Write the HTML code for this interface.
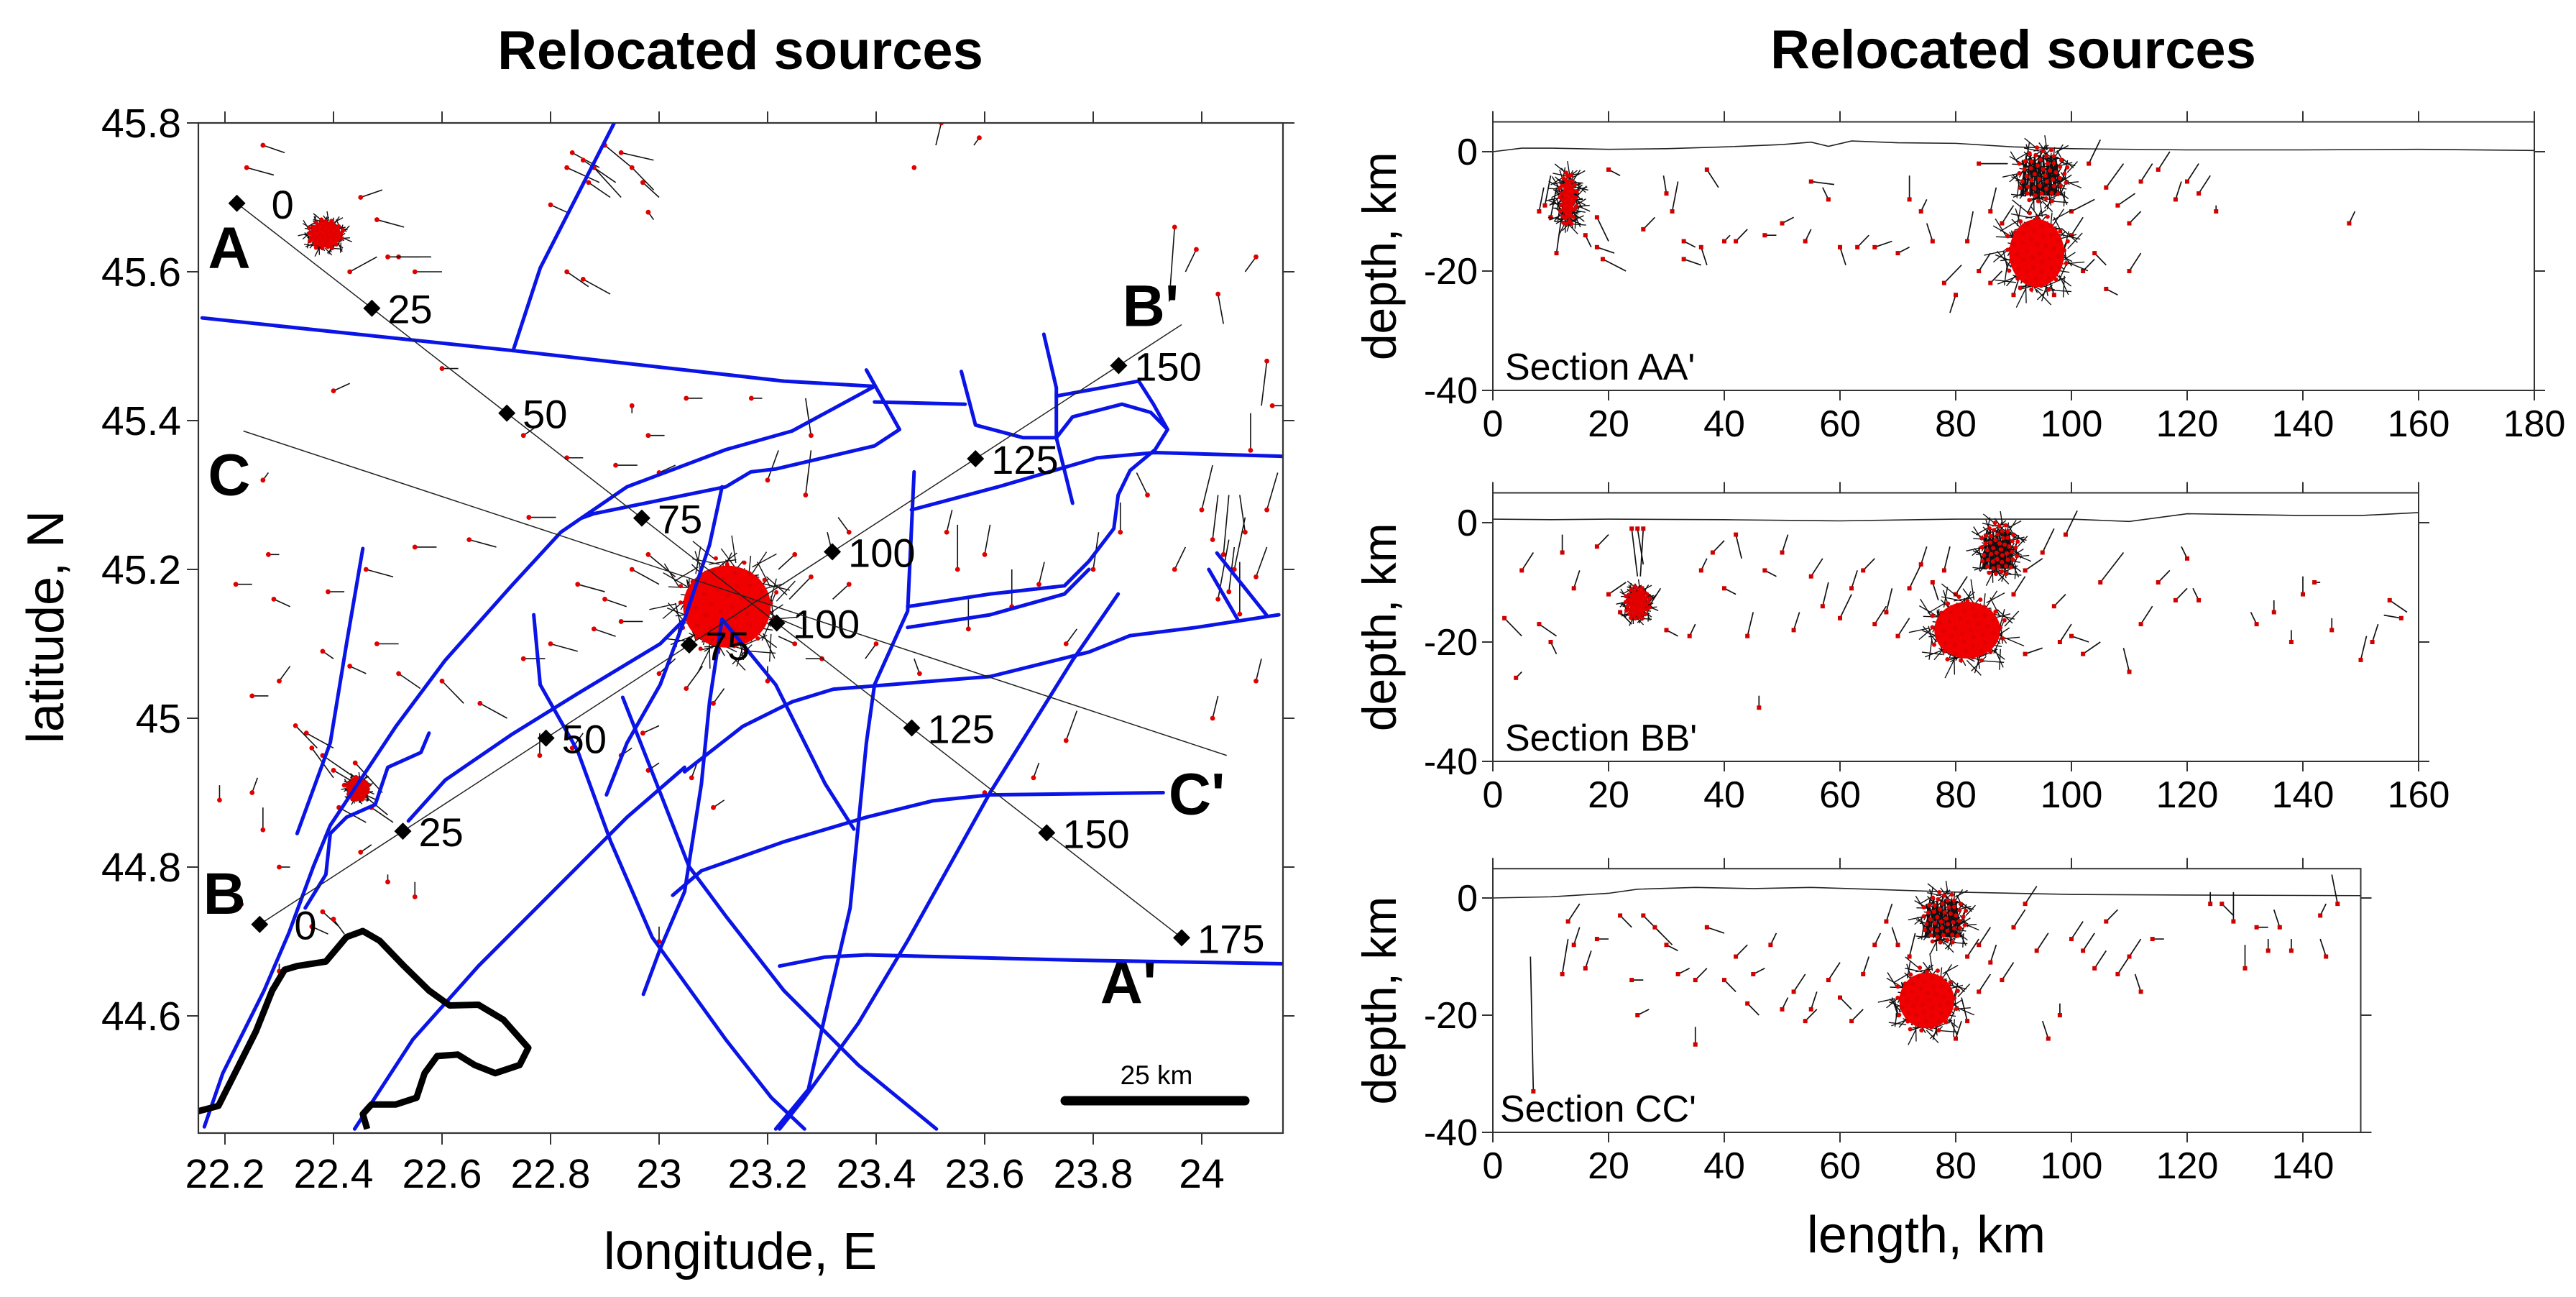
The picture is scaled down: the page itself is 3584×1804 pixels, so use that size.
<!DOCTYPE html>
<html><head><meta charset="utf-8"><style>
html,body{margin:0;padding:0;background:#fff}
svg{display:block;font-family:"Liberation Sans",Arial,sans-serif}
</style></head><body>
<svg id="fig" xmlns="http://www.w3.org/2000/svg" width="3584" height="1804" viewBox="0 0 3584 1804">
<rect width="3584" height="1804" fill="#fff"/>
<text x="1030" y="96" font-size="76" font-weight="bold" text-anchor="middle">Relocated sources</text>
<text x="2801" y="95" font-size="76" font-weight="bold" text-anchor="middle">Relocated sources</text>
<text x="1030" y="1765" font-size="72" text-anchor="middle">longitude, E</text>
<text transform="translate(88,872) rotate(-90)" font-size="72" text-anchor="middle">latitude, N</text>
<text x="2680" y="1742" font-size="72" text-anchor="middle">length, km</text>
<g id="map"></g>
<g id="sec"></g>
</svg>
<script>
// ===== MAP DATA =====
const lonTicks=[22.2,22.4,22.6,22.8,23,23.2,23.4,23.6,23.8,24];
const lonTickLabels=["22.2","22.4","22.6","22.8","23","23.2","23.4","23.6","23.8","24"];
const latTicks=[45.8,45.6,45.4,45.2,45,44.8,44.6];
const latTickLabels=["45.8","45.6","45.4","45.2","45","44.8","44.6"];
const faults=[
[[22.158,45.538],[22.731,45.494],[23.230,45.453],[23.397,45.446]],
[[22.731,45.494],[22.781,45.605],[22.918,45.801]],
[[23.397,45.446],[23.245,45.386],[23.123,45.361],[22.941,45.311],[22.819,45.250],[22.728,45.178],[22.606,45.078],[22.515,44.989],[22.394,44.856],[22.363,44.801],[22.318,44.712],[22.272,44.634],[22.196,44.523],[22.162,44.451]],
[[23.382,45.468],[23.443,45.388],[23.397,45.366],[23.215,45.335],[23.169,45.331],[23.123,45.311],[22.880,45.275],[22.857,45.269]],
[[23.397,45.425],[23.564,45.422]],
[[23.709,45.516],[23.732,45.444],[23.732,45.377],[23.762,45.289]],
[[23.557,45.466],[23.583,45.394],[23.671,45.377],[23.732,45.377],[23.762,45.405],[23.853,45.422],[23.906,45.411],[23.937,45.388],[23.914,45.361],[23.868,45.333],[23.846,45.300],[23.838,45.255],[23.792,45.211],[23.747,45.178],[23.610,45.167],[23.458,45.150]],
[[23.732,45.433],[23.884,45.453],[23.911,45.422],[23.937,45.388]],
[[23.465,45.280],[23.625,45.311],[23.808,45.350],[23.914,45.357],[24.150,45.352]],
[[23.470,45.331],[23.458,45.144],[23.397,45.045],[23.382,44.967],[23.367,44.856],[23.352,44.745],[23.306,44.601],[23.275,44.501],[23.215,44.448]],
[[23.458,45.122],[23.610,45.139],[23.747,45.167],[23.792,45.200]],
[[23.846,45.167],[23.762,45.078],[23.610,44.900],[23.458,44.701],[23.367,44.590],[23.268,44.490],[23.222,44.448]],
[[23.047,44.928],[23.154,44.989],[23.245,45.022],[23.321,45.039],[23.610,45.056],[23.792,45.089],[23.868,45.111],[23.990,45.122],[24.142,45.139]],
[[23.025,44.762],[23.078,44.795],[23.230,44.834],[23.382,44.867],[23.504,44.889],[23.610,44.897],[23.929,44.900]],
[[23.222,44.667],[23.306,44.679],[23.382,44.682],[23.762,44.675],[24.150,44.670]],
[[22.439,44.448],[22.546,44.568],[22.667,44.667],[22.941,44.867],[23.047,44.934]],
[[23.116,45.311],[23.093,45.233],[23.047,45.133],[23.002,45.045],[22.941,44.967],[22.903,44.897]],
[[22.769,45.139],[22.781,45.045],[22.850,44.956],[22.911,44.834],[22.987,44.706],[23.047,44.645],[23.123,44.568],[23.207,44.490],[23.268,44.448]],
[[23.116,45.133],[23.093,45.022],[23.078,44.912],[23.047,44.767],[23.002,44.690],[22.971,44.629]],
[[22.933,45.028],[23.002,44.900],[23.055,44.801],[23.123,44.734],[23.230,44.634],[23.367,44.534],[23.511,44.448]],
[[23.116,45.133],[23.215,45.045],[23.306,44.912],[23.359,44.851]],
[[22.454,45.228],[22.424,45.100],[22.394,44.967],[22.333,44.845]],
[[22.576,44.980],[22.561,44.954],[22.500,44.934],[22.477,44.884],[22.424,44.867],[22.394,44.845],[22.386,44.790],[22.348,44.745]],
[[22.538,44.862],[22.606,44.917],[22.728,44.978],[22.850,45.033],[23.002,45.100],[23.047,45.133]],
[[24.013,45.200],[24.066,45.133]],
[[24.028,45.222],[24.119,45.139]]
];
const border=[[22.151,44.472],[22.188,44.479],[22.226,44.534],[22.257,44.579],[22.287,44.634],[22.310,44.662],[22.333,44.667],[22.386,44.673],[22.424,44.706],[22.454,44.714],[22.485,44.701],[22.530,44.667],[22.576,44.634],[22.614,44.614],[22.667,44.615],[22.713,44.595],[22.759,44.557],[22.743,44.534],[22.698,44.523],[22.660,44.534],[22.629,44.548],[22.591,44.546],[22.568,44.523],[22.553,44.490],[22.515,44.481],[22.470,44.481],[22.454,44.468],[22.462,44.448]];
const profA=[[22.222,45.692],[23.963,44.705]];
const profAkm=[0,25,50,75,100,125,150,175];
const profAlen=175;
const profB=[[22.264,44.723],[23.963,45.529]];
const profBkm=[0,25,50,75,100,125,150];
const profBlen=161;
const profC=[[22.234,45.386],[24.046,44.950]];
const profLabels=[["A",22.208,45.633],["A'",23.865,44.645],["B",22.199,44.765],["B'",23.906,45.555],["C",22.208,45.328],["C'",23.991,44.899]];
const mapClusters=[[23.125,45.150,0.085,0.058],[22.385,45.650,0.030,0.018],[22.445,44.905,0.018,0.014]];
const mapEvents=[
[22.27,45.77,0.04,-0.01],[22.24,45.74,0.05,-0.01],[22.45,45.70,0.04,0.01],[22.48,45.67,0.05,-0.01],[22.52,45.62,0.06,0.0],[22.55,45.60,0.05,0.0],[22.50,45.62,0.06,0.0],[22.43,45.60,0.05,0.02],
[22.84,45.76,0.05,-0.02],[22.86,45.75,0.06,-0.03],[22.88,45.74,0.05,-0.04],[22.90,45.77,0.05,-0.03],[22.93,45.76,0.06,-0.01],[22.95,45.74,0.04,-0.03],[22.97,45.72,0.03,-0.02],[22.83,45.74,0.06,-0.02],[22.87,45.72,0.04,-0.02],[22.80,45.69,0.03,-0.01],[22.83,45.60,0.04,-0.02],[22.86,45.59,0.05,-0.02],
[22.98,45.68,0.01,-0.01],[23.52,45.80,-0.01,-0.03],[23.59,45.78,-0.01,-0.01],[23.47,45.74,0,0],[23.95,45.66,-0.01,-0.1],[23.99,45.63,-0.02,-0.03],[24.1,45.62,-0.02,-0.02],[24.03,45.57,0.01,-0.04],[24.12,45.48,-0.01,-0.06],
[22.6,45.47,0.03,0.0],[22.4,45.44,0.03,0.01],[22.95,45.42,0.0,-0.01],[23.05,45.43,0.03,0.0],[23.17,45.43,0.02,0.0],
[22.92,45.34,0.04,0.0],[23.0,45.33,0.03,0.01],[22.98,45.38,0.03,0.0],[22.83,45.35,0.03,0.0],[22.75,45.38,0.02,0.01],[23.2,45.32,0.02,0.04],[23.27,45.3,0.01,0.06],[23.28,45.38,-0.01,0.05],
[22.76,45.27,0.05,0.0],[22.65,45.24,0.05,-0.01],[22.55,45.23,0.04,0.0],[22.46,45.2,0.05,-0.01],[22.39,45.17,0.03,0.0],[22.28,45.22,0.02,0.0],[22.22,45.18,0.03,0.0],[22.29,45.16,0.03,-0.01],
[22.27,45.32,0.01,0.01],[22.43,45.07,0.03,-0.01],[22.48,45.1,0.04,0.0],[22.38,45.09,0.02,-0.01],[22.52,45.06,0.04,-0.02],[22.6,45.05,0.04,-0.03],[22.67,45.02,0.05,-0.02],[22.3,45.05,0.02,0.02],[22.25,45.03,0.03,0.0],
[22.35,44.98,0.05,-0.02],[22.38,44.95,0.06,-0.03],[22.40,44.93,0.07,-0.03],[22.42,44.91,0.06,-0.02],[22.45,44.9,0.05,-0.03],[22.47,44.88,0.04,-0.02],[22.36,44.96,0.04,-0.04],[22.33,44.99,0.04,-0.03],[22.44,44.94,0.05,-0.04],[22.41,44.88,0.05,-0.02],
[22.27,44.85,0.0,0.03],[22.25,44.9,0.01,0.02],[22.3,44.8,0.02,0.0],[22.23,44.75,0.0,0.01],[22.38,44.74,0.03,-0.02],[22.36,44.72,0.03,-0.01],[22.4,44.73,0.02,-0.02],[22.5,44.78,0.0,0.01],[22.55,44.76,0.0,0.02],[22.45,44.82,0.02,0.01],
[22.85,45.18,0.05,-0.01],[22.9,45.16,0.04,-0.01],[22.95,45.2,0.05,-0.02],[22.98,45.22,0.05,-0.03],[22.93,45.13,0.04,0.0],[22.88,45.12,0.04,-0.01],[22.8,45.1,0.05,-0.01],[22.75,45.08,0.04,0.0],[23.0,45.06,0.03,0.02],[23.05,45.04,0.03,0.03],[23.1,45.02,0.02,0.02],[23.25,45.22,-0.03,-0.02],[23.28,45.19,-0.04,-0.03],[23.32,45.22,-0.01,0.03],[23.35,45.18,-0.03,-0.02],[23.25,45.1,-0.03,0.01],[23.3,45.08,-0.03,0.0],[23.4,45.1,-0.02,-0.02],[23.2,45.05,0.0,0.02],[23.35,45.25,-0.02,0.02],
[22.93,44.95,0.02,0.01],[22.98,44.93,0.02,0.01],[22.97,44.98,0.03,0.01],[23.06,44.92,0.01,0.02],[23.1,44.88,0.02,0.01],[22.84,44.96,0.02,0.02],[22.78,44.95,0.0,0.03],
[23.53,45.25,0.01,0.03],[23.55,45.2,0.0,0.06],[23.6,45.22,0.01,0.04],[23.65,45.15,0.0,0.05],[23.7,45.18,0.01,0.03],[23.48,45.06,-0.01,0.02],[23.57,45.12,0.0,0.04],[23.75,45.1,0.02,0.02],[23.85,45.25,0.0,0.04],[23.9,45.3,-0.02,0.03],[23.8,45.2,0.01,0.05],[23.95,45.2,0.02,0.03],[23.75,44.97,0.02,0.04],[23.69,44.92,0.01,0.02],
[24.02,45.24,0.01,0.06],[24.04,45.22,0.01,0.08],[24.06,45.2,0.02,0.07],[24.05,45.17,0.01,0.06],[24.03,45.16,0.02,0.08],[24.07,45.14,0.0,0.07],[24.08,45.25,-0.01,0.05],[24.1,45.19,0.02,0.04],[24.0,45.28,0.02,0.06],[24.12,45.28,0.02,0.05],[24.09,45.36,0.0,0.05],
[24.13,45.42,0.03,0.0],[24.1,45.05,0.01,0.03],[24.02,45.0,0.01,0.03],[23.6,44.9,0,0],[23.0,44.7,0.0,0.02],[22.3,44.66,0.0,0.01],[22.19,44.89,0.0,0.02]
];
// ===== SECTION DATA =====
const secNames=["Section AA'","Section BB'","Section CC'"];
const secLengths=[180,160,150];
const secXTicks=[[0,20,40,60,80,100,120,140,160,180],[0,20,40,60,80,100,120,140,160],[0,20,40,60,80,100,120,140]];
const depthTicks=[0,-20,-40];
const depthTickLabels=["0","-20","-40"];
const topoDist=[[0,5,10,20,30,40,50,55,58,62,70,80,90,100,120,140,160,180],[0,10,20,40,60,80,100,110,120,140,150,160],[0,10,20,25,35,45,55,65,80,100,120,150]];
const topoElev=[[0,0.6,0.6,0.4,0.5,0.8,1.2,1.6,0.9,1.8,1.5,1.4,0.8,0.5,0.3,0.3,0.4,0.2],[0.6,0.5,0.6,0.5,0.3,0.6,0.6,0.2,1.5,1.2,1.2,1.7],[0,0.2,0.8,1.5,1.8,1.6,1.8,1.5,1.0,0.6,0.5,0.4]];
const secClusters=[
 [[94,-17,5,6,"red"],[95,-4,4,4.2,"black"],[13,-8,1.4,4,"mix"]],
 [[82,-18,6,5,"red"],[87.5,-4.5,3,4,"black"],[25,-13.5,2,2.5,"mix"]],
 [[75,-17.5,5,5,"red"],[78,-3.5,3.5,4,"black"]]
];
const secEvents=[
[[9,-9,1,5],[10,-11,1,5],[11,-17,1,7],[8,-10,0.8,4],[16,-14,1,-2],[18,-16,3,-1],[18,-11,2,-4],[20,-3,2,-1],[19,-18,4,-2],[26,-13,2,2],[31,-10,1,5],[30,-7,-0.5,3],[33,-18,3,-1],[33,-15,2,-1],[36,-16,1,-3],[37,-3,2,-3],[40,-15,1,1],[42,-15,2,2],[47,-14,2,0],[50,-12,2,1],[54,-15,1,2],[55,-5,4,-0.5],[58,-8,-1,2],[60,-16,1,-3],[63,-16,2,2],[66,-16,3,1],[70,-17,2,1],[72,-8,0,4],[74,-10,1,2],[76,-15,-1,3],[78,-22,3,3],[80,-24,-1,-3],[84,-2,5,0],[100,-10,4,2],[103,-2,2,4],[106,-6,3,4],[108,-9,3,2],[110,-12,2,2],[112,-5,2,3],[115,-3,2,3],[118,-8,1,3],[120,-5,2,3],[122,-7,2,3],[125,-10,0,1],[148,-12,1,2],[104,-17,2,-2],[106,-23,2,-1],[110,-20,2,3],[84,-20,2,3],[86,-22,2,2],[82,-15,1,5],[86,-10,1,4],[88,-12,2,3],[100,-14,2,3],[102,-20,2,2],[90,-24,1,3],[97,-24,-1,3]],
[[2,-16,3,-3],[4,-26,1,1],[5,-8,2,3],[8,-17,3,-2],[10,-20,1,-2],[12,-5,0,3],[14,-11,1,3],[18,-4,2,2],[20,-12,3,2],[22,-15,2,-2],[24,-1,1,-8],[25,-1,1,-6],[26,-1,-0.5,-8],[27,-14,2,3],[30,-18,2,-1],[34,-19,1,2],[36,-8,1,2],[38,-5,2,2],[40,-11,2,-1],[42,-2,1,-4],[44,-19,1,4],[46,-31,0,2],[47,-8,2,-1],[50,-5,1,3],[52,-18,1,3],[55,-9,2,3],[57,-14,1,4],[60,-16,2,4],[62,-11,1,3],[64,-8,2,2],[66,-17,2,3],[68,-15,1,4],[70,-19,2,3],[72,-11,2,4],[74,-7,1,3],[76,-10,1,-3],[92,-8,3,2],[95,-5,2,4],[97,-14,2,2],[99,-2,2,4],[100,-19,3,-1],[102,-22,3,2],[105,-10,4,5],[110,-25,-1,4],[112,-17,2,3],[115,-10,2,2],[118,-13,2,2],[120,-6,-1,2],[122,-13,-1,2],[132,-17,-1,2],[135,-15,0,2],[138,-20,0,2],[140,-12,0,3],[142,-10,1,0],[145,-18,0,2],[150,-23,1,4],[155,-13,3,-2],[157,-16,-3,0.5],[152,-20,1,3],[98,-20,2,3],[78,-8,1,4],[80,-12,2,3],[90,-12,2,3],[92,-22,3,1]],
[[7,-33,-0.5,23],[12,-13,1,6],[13,-4,2,3],[14,-8,1,3],[16,-12,1,3],[18,-7,2,0],[22,-3,2,-2],[24,-14,2,0],[25,-20,2,1],[26,-3,3,-3],[28,-5,3,-3],[30,-8,2,-1],[32,-13,2,1],[35,-14,2,2],[35,-25,0,3],[37,-5,3,-1],[40,-14,2,-2],[42,-10,2,2],[44,-18,2,-2],[45,-13,2,1],[48,-8,1,2],[50,-19,1,2],[52,-16,2,3],[54,-21,2,2],[55,-19,1,3],[58,-14,2,3],[60,-17,2,-2],[62,-21,2,2],[64,-13,1,3],[66,-8,1,2],[68,-4,1,3],[70,-8,-1,3],[70,-20,-1,3],[84,-8,2,3],[86,-11,1,3],[88,-14,2,3],[90,-5,2,3],[92,-1,2,3],[94,-9,2,3],[96,-24,-1,3],[98,-20,0,2],[100,-7,2,3],[102,-9,2,3],[104,-12,2,3],[106,-4,2,2],[108,-13,2,3],[110,-10,2,3],[112,-16,-1,3],[114,-7,2,0],[124,-1,0,2],[126,-1,2,-2],[128,-4,0,5],[130,-12,0,4],[132,-5,2,0],[134,-9,0,2],[136,-5,-1,3],[138,-9,0,2],[143,-3,1,2],[144,-10,-1,3],[146,-1,-1,5],[80,-24,1,3],[82,-21,-1,4],[72,-10,1,4],[82,-10,2,3],[84,-16,2,3]]
];

const NS="http://www.w3.org/2000/svg";
function mk(tag,attrs,parent){const e=document.createElementNS(NS,tag);for(const k in attrs)e.setAttribute(k,attrs[k]);parent.appendChild(e);return e;}

// ===== MAP =====
const M={x0:276,x1:1785,y0:171,y1:1576,lon0:22.151,lat0:45.8,kx:755,ky:1035};
const X=lon=>M.x0+(lon-M.lon0)*M.kx;
const Y=lat=>M.y0+(M.lat0-lat)*M.ky;
const map=document.getElementById('map');
const clipD=mk('defs',{},map);
const cp=mk('clipPath',{id:'mapclip'},clipD);
mk('rect',{x:M.x0,y:M.y0,width:M.x1-M.x0,height:M.y1-M.y0},cp);
const inner=mk('g',{'clip-path':'url(#mapclip)'},map);


const pathOf=pts=>pts.map((p,i)=>(i?'L':'M')+X(p[0]).toFixed(1)+' '+Y(p[1]).toFixed(1)).join(' ');

mapEvents.forEach(ev=>{
  const ln=mk('line',{x1:X(ev[0]),y1:Y(ev[1]),x2:X(ev[0]+ev[2]),y2:Y(ev[1]+ev[3]),stroke:'#111','stroke-width':1.6},inner);
  
  
  const c=mk('circle',{cx:X(ev[0]),cy:Y(ev[1]),r:3.4,fill:'#e00000'},inner);
  
  
});
function drawCluster(parent,cx,cy,rx,ry,kind,name){
  const g=mk('g',{},parent);
  
  
  const n=140;
  for(let i=0;i<n;i++){
    const a=i*2.39996, f=Math.sqrt((i+0.5)/n);
    const px=cx+Math.cos(a)*rx*f*1.15, py=cy+Math.sin(a)*ry*f*1.15;
    const ang=a*1.7, L=Math.max(rx,ry)*0.6;
    mk('line',{x1:px,y1:py,x2:px+Math.cos(ang)*L,y2:py+Math.sin(ang)*L,stroke:'#111','stroke-width':1.4},g);
  }
  if(kind!=='black') mk('ellipse',{cx:cx,cy:cy,rx:rx*(kind==='mix'?0.7:0.95),ry:ry*(kind==='mix'?0.8:0.95),fill:'#f00000'},g);
  if(kind==='black'){for(let i=0;i<40;i++){const a=i*0.7;mk('line',{x1:cx-rx*0.7+(i%8)*rx*0.18,y1:cy-ry*0.8,x2:cx-rx*0.75+(i%8)*rx*0.2+Math.sin(a)*rx*0.2,y2:cy+ry*0.8,stroke:'#111','stroke-width':1.8},g);}}
  for(let i=0;i<50;i++){
    const a=i*2.39996, f=Math.sqrt((i+0.5)/50);
    mk('circle',{cx:cx+Math.cos(a)*rx*f*1.15,cy:cy+Math.sin(a)*ry*f*1.15,r:3,fill:'#e00000'},g);
  }
  return g;
}
mapClusters.forEach((c,i)=>{
  drawCluster(inner,X(c[0]),Y(c[1]),c[2]*M.kx,c[3]*M.ky,'red','map-cluster-'+i);
});
faults.forEach((f,i)=>{
  const p=mk('path',{d:pathOf(f),fill:'none',stroke:'#0a14e6','stroke-width':5,'stroke-linejoin':'round','stroke-linecap':'round'},inner);
  
  
});
const bd=mk('path',{d:pathOf(border),fill:'none',stroke:'#000','stroke-width':9,'stroke-linejoin':'round'},inner);


function drawProfile(pr,kms,len,name){
  const l=mk('line',{x1:X(pr[0][0]),y1:Y(pr[0][1]),x2:X(pr[1][0]),y2:Y(pr[1][1]),stroke:'#222','stroke-width':1.5},map);
  
  
  (kms||[]).forEach(k=>{
    const t=k/len, lon=pr[0][0]+(pr[1][0]-pr[0][0])*t, lat=pr[0][1]+(pr[1][1]-pr[0][1])*t;
    const x=X(lon),y=Y(lat);
    const d=mk('path',{d:`M${x} ${y-12}L${x+12} ${y}L${x} ${y+12}L${x-12} ${y}Z`,fill:'#000'},map);
    
    
    const tx=mk('text',{x:x+(k===0?48:22),y:y+21,'font-size':56},map);
    tx.textContent=String(k);
    
    
  });
}
drawProfile(profA,profAkm,profAlen,'profile-a-line');
drawProfile(profB,profBkm,profBlen,'profile-b-line');
drawProfile(profC,null,1,'profile-c-line');
profLabels.forEach(p=>{
  const t=mk('text',{x:X(p[1]),y:Y(p[2])+29,'font-size':82,'font-weight':'bold','text-anchor':'middle'},map);
  t.textContent=p[0];
  
  
});
const sb=mk('line',{x1:1482,y1:1531,x2:1732,y2:1531,stroke:'#000','stroke-width':13,'stroke-linecap':'round'},map);


const sbt=mk('text',{x:1609,y:1508,'font-size':37,'text-anchor':'middle'},map);
sbt.textContent='25 km';


const fr=mk('rect',{x:M.x0,y:M.y0,width:M.x1-M.x0,height:M.y1-M.y0,fill:'none',stroke:'#333','stroke-width':2.2},map);


lonTicks.forEach((v,i)=>{
  const x=X(v);
  mk('line',{x1:x,y1:M.y1,x2:x,y2:M.y1+16,stroke:'#333','stroke-width':2},map);
  mk('line',{x1:x,y1:M.y0,x2:x,y2:M.y0-16,stroke:'#333','stroke-width':2},map);
  const t=mk('text',{x:x,y:M.y1+76,'font-size':57,'text-anchor':'middle'},map);
  t.textContent=lonTickLabels[i];
  
  
});
latTicks.forEach((v,i)=>{
  const y=Y(v);
  mk('line',{x1:M.x0-16,y1:y,x2:M.x0,y2:y,stroke:'#333','stroke-width':2},map);
  mk('line',{x1:M.x1,y1:y,x2:M.x1+16,y2:y,stroke:'#333','stroke-width':2},map);
  const t=mk('text',{x:M.x0-24,y:y+20,'font-size':57,'text-anchor':'end'},map);
  t.textContent=latTickLabels[i];
  
  
});

// ===== SECTIONS =====
const sec=document.getElementById('sec');
const P=[{y0:211,k:8.3},{y0:727,k:8.3},{y0:1249,k:8.15}];
const SX0=2077, SKX=8.05;
P.forEach((p,i)=>{
  const g=mk('g',{},sec);
  
  
  const sx=d=>SX0+d*SKX, sy=z=>p.y0-z*p.k;
  const L=secLengths[i];
  const top=sy(5), bot=sy(-40), right=sx(L);
  const tp=mk('path',{d:topoDist[i].map((d,j)=>(j?'L':'M')+sx(d)+' '+sy(topoElev[i][j])).join(' '),fill:'none',stroke:'#222','stroke-width':1.6},g);
  
  
  secEvents[i].forEach(ev=>{
    const ln=mk('line',{x1:sx(ev[0]),y1:sy(ev[1]),x2:sx(ev[0]+ev[2]),y2:sy(ev[1]+ev[3]),stroke:'#111','stroke-width':1.7},g);
    
    
    const c=mk('rect',{x:sx(ev[0])-3,y:sy(ev[1])-3,width:6,height:6,fill:'#d00000'},g);
    
    
  });
  secClusters[i].forEach(c=>{
    drawCluster(g,sx(c[0]),sy(c[1]),c[2]*SKX,c[3]*p.k,c[4],'section-cluster');
  });
  const f=mk('rect',{x:SX0,y:top,width:right-SX0,height:bot-top,fill:'none',stroke:'#333','stroke-width':2},g);
  
  
  mk('line',{x1:SX0-15,y1:bot,x2:right+15,y2:bot,stroke:'#333','stroke-width':2},g);
  secXTicks[i].forEach(v=>{
    const x=sx(v);
    mk('line',{x1:x,y1:bot,x2:x,y2:bot+14,stroke:'#333','stroke-width':2},g);
    mk('line',{x1:x,y1:top,x2:x,y2:top-15,stroke:'#333','stroke-width':2},g);
    const t=mk('text',{x:x,y:bot+64,'font-size':52,'text-anchor':'middle'},g);
    t.textContent=String(v);
    
    
  });
  depthTicks.forEach((v,j)=>{
    const y=sy(v);
    mk('line',{x1:SX0-15,y1:y,x2:SX0,y2:y,stroke:'#333','stroke-width':2},g);
    mk('line',{x1:right,y1:y,x2:right+15,y2:y,stroke:'#333','stroke-width':2},g);
    const t=mk('text',{x:SX0-21,y:y+18,'font-size':52,'text-anchor':'end'},g);
    t.textContent=depthTickLabels[j];
    
    
  });
  const nm=mk('text',{x:SX0+(i===2?10:17),y:bot-15,'font-size':52},g);
  nm.textContent=secNames[i];
  
  
  const yt=mk('text',{transform:`translate(1942,${(top+bot)/2}) rotate(-90)`,'font-size':66,'text-anchor':'middle'},g);
  yt.textContent='depth, km';
  
  
});
</script>
</body></html>
